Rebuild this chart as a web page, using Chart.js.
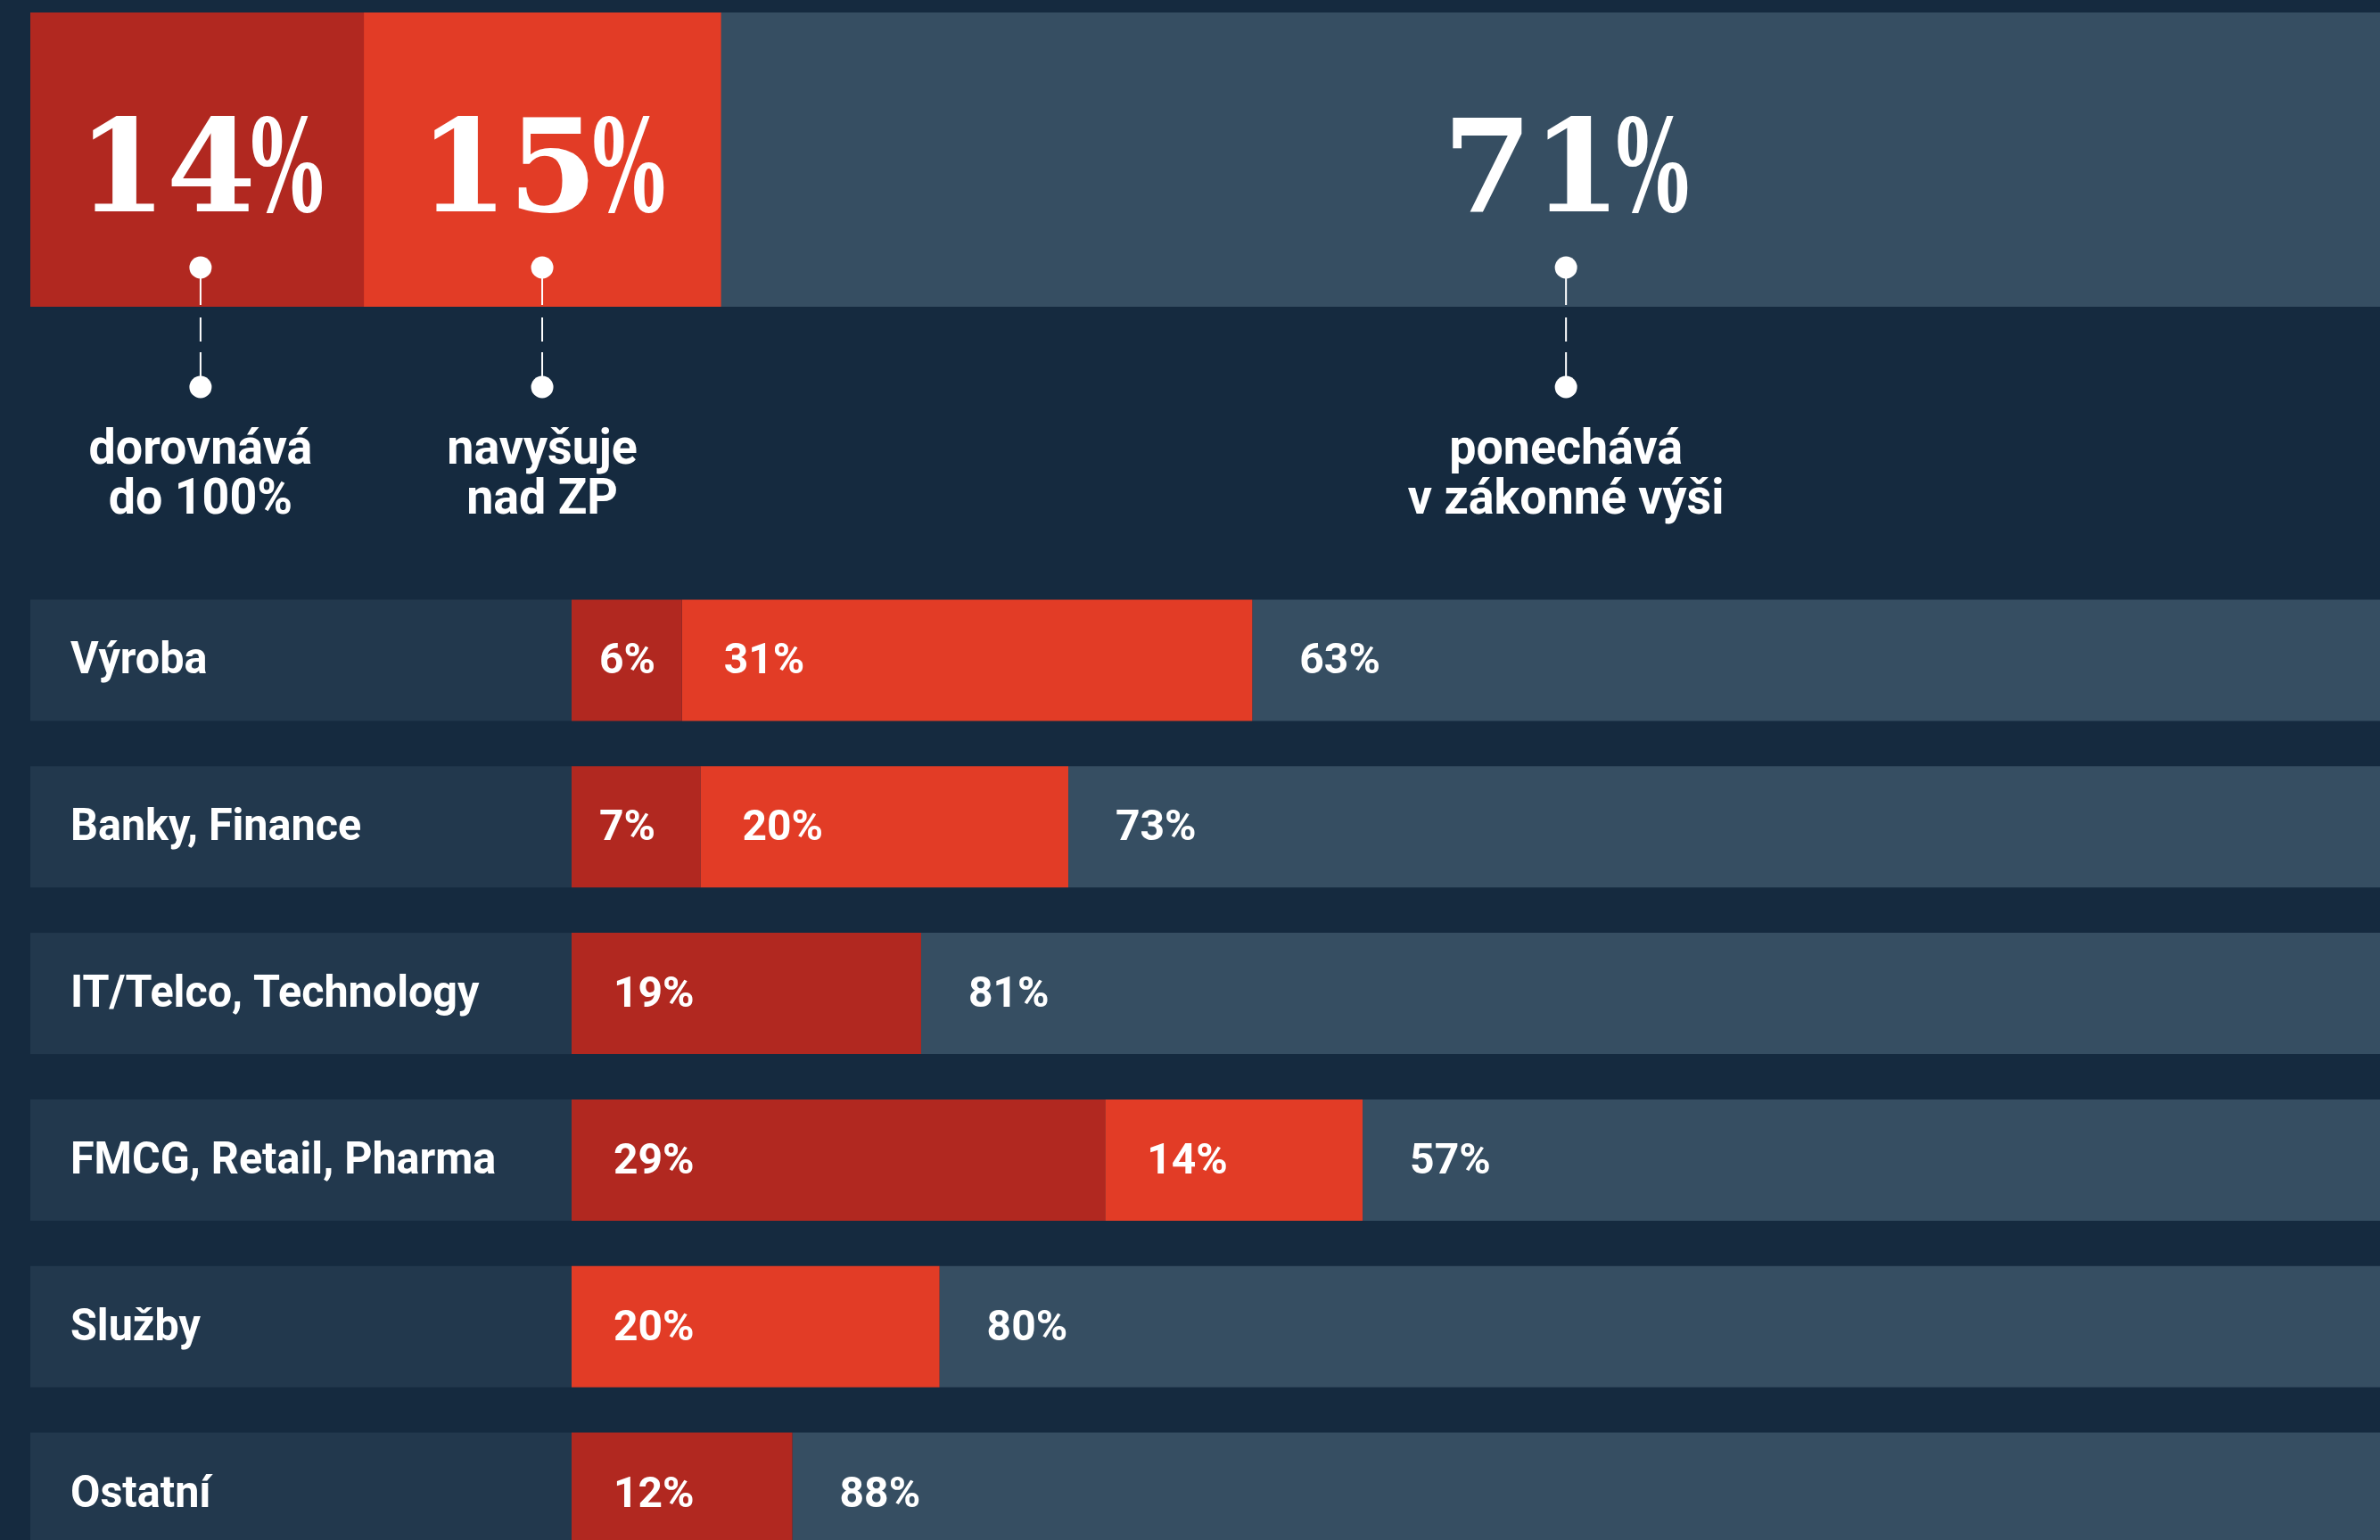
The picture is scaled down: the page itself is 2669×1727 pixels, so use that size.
<!DOCTYPE html>
<html lang="cs">
<head>
<meta charset="utf-8">
<title>Nemocenská podle odvětví</title>
<script src="https://cdn.jsdelivr.net/npm/chart.js@4/dist/chart.umd.min.js"></script>
<style>
  html, body {
    margin: 0;
    padding: 0;
    width: 2669px;
    height: 1727px;
    overflow: hidden;
    background: #152a3f;
  }
  /* both charts are a little wider than the window, the picture is cut on the right */
  #topWrap { position: absolute; left: 0; top: 0; width: 2704px; height: 620px; }
  #rowsWrap { position: absolute; left: 0; top: 647px; width: 2704px; height: 1121px; }
</style>
</head>
<body>
<div id="topWrap"><canvas id="topChart"></canvas></div>
<div id="rowsWrap"><canvas id="rowsChart"></canvas></div>

<script>
// ============ Data ============
const totalValues = [14, 15, 71];
const totalCaptions = [
  ['dorovnává', 'do 100%'],
  ['navyšuje', 'nad ZP'],
  ['ponechává', 'v zákonné výši']
];

const sectors = ['Výroba', 'Banky, Finance', 'IT/Telco, Technology', 'FMCG, Retail, Pharma', 'Služby', 'Ostatní'];
const topUp = [6, 7, 19, 29, 0, 12];    // dorovnává do 100%
const raise = [31, 20, 0, 14, 20, 0];   // navyšuje nad ZP
const keep = [63, 73, 81, 57, 80, 88];  // ponechává v zákonné výši

const COLORS = ['#b12820', '#e23c26', '#364e62'];
const PANEL = '#22384d';
const SANS = 'Roboto, "Noto Sans", sans-serif';

// ============ Helpers ============
function drawBigNumber(ctx, value, cx, baseline) {
  ctx.font = 'bold 144px "DejaVu Serif"';
  ctx.fillStyle = '#ffffff';
  ctx.textAlign = 'left';
  ctx.textBaseline = 'alphabetic';
  const digits = String(value);
  const dw = ctx.measureText(digits).width;
  const pw = ctx.measureText('%').width * 0.6;
  const x0 = cx - (dw + pw - 6) / 2;
  ctx.fillText(digits, x0, baseline);
  // narrow percent sign
  ctx.save();
  ctx.translate(x0 + dw - 6, baseline);
  ctx.scale(0.6, 1);
  ctx.fillText('%', 0, 0);
  ctx.restore();
}

// slightly condensed text, the original face is narrower than Roboto
function drawNarrow(ctx, text, x, y, align, sx) {
  const w = ctx.measureText(text).width * sx;
  let left = x;
  if (align === 'center') left = x - w / 2;
  ctx.save();
  ctx.textAlign = 'left';
  ctx.translate(left, y);
  ctx.scale(sx, 1);
  ctx.fillText(text, 0, 0);
  ctx.restore();
}

// ============ Top bar (overall) ============
const totalsPlugin = {
  id: 'totals',
  afterDatasetsDraw(chart) {
    const ctx = chart.ctx;
    chart.data.datasets.forEach((ds, i) => {
      const bar = chart.getDatasetMeta(i).data[0];
      const cx = (bar.x + bar.base) / 2 + (i === 0 ? 4 : 0);
      const top = bar.y - bar.height / 2;
      const bottom = bar.y + bar.height / 2;

      drawBigNumber(ctx, ds.data[0], cx, top + 223);

      // pointer: dot - dashed line - dot
      const y1 = bottom - 44;
      const y2 = bottom + 90;
      ctx.strokeStyle = '#ffffff';
      ctx.lineWidth = 2;
      ctx.setLineDash([42, 14, 27, 12, 60]);
      ctx.beginPath();
      ctx.moveTo(cx, y1);
      ctx.lineTo(cx, y2);
      ctx.stroke();
      ctx.setLineDash([]);
      ctx.fillStyle = '#ffffff';
      [y1, y2].forEach(y => {
        ctx.beginPath();
        ctx.arc(cx, y, 12.5, 0, Math.PI * 2);
        ctx.fill();
      });

      // caption
      ctx.font = 'bold 56px ' + SANS;
      ctx.textBaseline = 'alphabetic';
      totalCaptions[i].forEach((line, k) => {
        drawNarrow(ctx, line, cx, bottom + 176 + k * 56, 'center', 0.96);
      });
    });
  }
};

new Chart(document.getElementById('topChart'), {
  type: 'bar',
  data: {
    labels: [''],
    datasets: totalValues.map((v, i) => ({
      label: totalCaptions[i].join(' '),
      data: [v],
      backgroundColor: COLORS[i],
      borderWidth: 0,
      barPercentage: 1,
      categoryPercentage: 1
    }))
  },
  options: {
    indexAxis: 'y',
    responsive: true,
    maintainAspectRatio: false,
    animation: false,
    layout: { padding: { left: 34, top: 14, right: 0, bottom: 276 } },
    plugins: { legend: { display: false }, tooltip: { enabled: false } },
    scales: {
      x: { stacked: true, min: 0, max: 100, display: false },
      y: { stacked: true, display: false }
    }
  },
  plugins: [totalsPlugin]
});

// ============ Sector rows ============
const rowsPlugin = {
  id: 'rows',
  beforeDatasetsDraw(chart) {
    const ctx = chart.ctx;
    const yScale = chart.scales.y;
    const thick = chart.getDatasetMeta(2).data[0].height;
    chart.data.labels.forEach((label, i) => {
      const cy = yScale.getPixelForValue(i);
      ctx.fillStyle = PANEL;
      ctx.fillRect(34, cy - thick / 2, chart.chartArea.left - 34, thick);
      ctx.fillStyle = '#ffffff';
      ctx.font = 'bold 50px ' + SANS;
      ctx.textBaseline = 'alphabetic';
      drawNarrow(ctx, label, 79, cy + 15, 'left', 0.97);
    });
  },
  afterDatasetsDraw(chart) {
    const ctx = chart.ctx;
    ctx.font = 'bold 48px ' + SANS;
    ctx.fillStyle = '#ffffff';
    ctx.textAlign = 'left';
    ctx.textBaseline = 'alphabetic';
    chart.data.datasets.forEach((ds, d) => {
      chart.getDatasetMeta(d).data.forEach((bar, i) => {
        const v = ds.data[i];
        if (!v) return;
        const text = v + '%';
        const tw = ctx.measureText(text).width;
        const w = bar.x - bar.base;
        let pad = d === 2 ? 53 : 47;
        if (d !== 2 && w < tw + 94) pad = 31;
        ctx.fillText(text, bar.base + pad, bar.y + 15);
      });
    });
  }
};

new Chart(document.getElementById('rowsChart'), {
  type: 'bar',
  data: {
    labels: sectors,
    datasets: [topUp, raise, keep].map((arr, i) => ({
      label: totalCaptions[i].join(' '),
      data: arr,
      backgroundColor: COLORS[i],
      borderWidth: 0,
      barPercentage: 1,
      categoryPercentage: 0.728
    }))
  },
  options: {
    indexAxis: 'y',
    responsive: true,
    maintainAspectRatio: false,
    animation: false,
    layout: { padding: { left: 641, top: 0, right: 0, bottom: 0 } },
    plugins: { legend: { display: false }, tooltip: { enabled: false } },
    scales: {
      x: { stacked: true, min: 0, max: 100, display: false },
      y: { stacked: true, display: false }
    }
  },
  plugins: [rowsPlugin]
});
</script>
</body>
</html>
